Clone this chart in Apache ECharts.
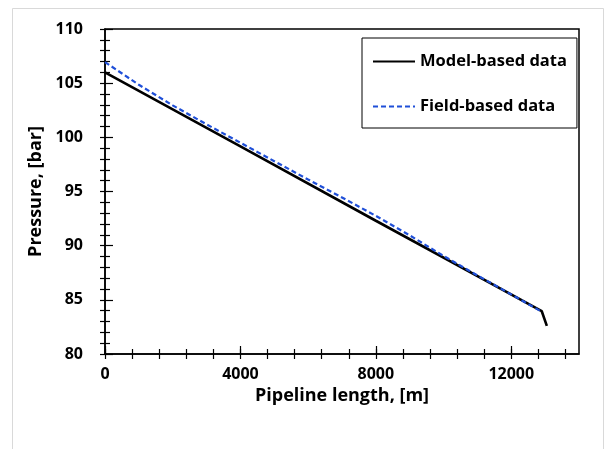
<!DOCTYPE html>
<html>
<head>
<meta charset="utf-8">
<script src="https://cdn.jsdelivr.net/npm/echarts@6/dist/echarts.min.js"></script>
<style>
  html, body { margin: 0; padding: 0; background: #fff; }
  #chart { width: 615px; height: 449px; }
</style>
</head>
<body>
<div id="chart"></div>
<script>
// pipeline length [m] and pressure [bar]
const MODEL_X = [0, 4000, 8000, 12900, 13050];
const MODEL_Y = [106.0, 99.16, 92.3, 83.95, 82.6];

const FIELD_X = [0, 1000, 2000, 3000, 4000, 5000, 6000, 7000, 8000, 9000, 10000, 11000, 12000, 12900];
const FIELD_Y = [106.95, 104.85, 102.95, 101.2, 99.5, 97.8, 96.1, 94.45, 92.75, 90.95, 89.05, 87.25, 85.5, 83.9];

const X_TICKS = [0, 800, 1600, 2400, 3200, 4000, 4800, 5600, 6400, 7200, 8000, 8800, 9600, 10400, 11200, 12000, 12800, 13600];
const X_MAJOR = [0, 4000, 8000, 12000];
const X_LABELS = ["0", "4000", "8000", "12000"];

const FONT = "'Open Sans', sans-serif";
const AXIS_LINE = { lineStyle: { color: "#000", width: 1.5 } };
const TICK_STYLE = { color: "#000", width: 1.2 };

const chart = echarts.init(document.getElementById("chart"), null, { renderer: "canvas" });

const pair = (xs, ys) => xs.map((x, i) => [x, ys[i]]);

chart.setOption({
  animation: false,
  backgroundColor: "#fff",
  textStyle: { fontFamily: FONT },
  graphic: [
    {
      type: "rect",
      shape: { x: 12.5, y: 8.5, width: 591, height: 470 },
      style: { fill: "none", stroke: "#d9d9d9", lineWidth: 1 },
      silent: true,
    },
  ],
  grid: {
    left: 105, right: 36, top: 29, bottom: 95,
    show: true, borderColor: "#000", borderWidth: 1.5, backgroundColor: "transparent",
  },
  legend: {
    left: 362, top: 38,
    orient: "vertical",
    itemWidth: 42, itemHeight: 18, itemGap: 28,
    padding: [15, 10, 13, 10],
    borderColor: "#000", borderWidth: 1,
    itemStyle: { opacity: 0 },
    textStyle: { color: "#000", fontSize: 16.5, fontWeight: "bold", fontFamily: FONT },
    data: ["Model-based data", "Field-based data"],
  },
  xAxis: [
    {
      type: "value", min: 0, max: 14000,
      name: "Pipeline length, [m]", nameLocation: "middle", nameGap: 23,
      nameTextStyle: { color: "#000", fontSize: 18, fontWeight: "bold", fontFamily: FONT },
      axisLine: AXIS_LINE,
      axisTick: { show: true, length: 5, customValues: X_TICKS, lineStyle: TICK_STYLE },
      axisLabel: {
        color: "#000", fontSize: 16, fontWeight: "bold", fontFamily: FONT, margin: 12,
        customValues: X_MAJOR,
        formatter: (v) => X_LABELS[X_MAJOR.indexOf(v)] ?? "",
      },
      splitLine: { show: false },
    },
    {
      type: "value", min: 0, max: 14000, position: "bottom",
      axisLine: { show: false },
      axisTick: { show: true, inside: true, length: 5, customValues: X_TICKS, lineStyle: TICK_STYLE },
      axisLabel: { show: false },
      splitLine: { show: false },
    },
    {
      type: "value", min: 0, max: 14000, position: "bottom",
      axisLine: { show: false },
      axisTick: { show: true, inside: true, length: 8, customValues: X_MAJOR, lineStyle: TICK_STYLE },
      axisLabel: { show: false },
      splitLine: { show: false },
    },
  ],
  yAxis: [
    {
      type: "value", min: 80, max: 110, interval: 5,
      name: "Pressure, [bar]", nameLocation: "middle", nameGap: 56,
      nameTextStyle: { color: "#000", fontSize: 18, fontWeight: "bold", fontFamily: FONT },
      axisLine: AXIS_LINE,
      axisTick: { show: true, length: 5, lineStyle: TICK_STYLE },
      minorTick: { show: true, splitNumber: 5, length: 5, lineStyle: TICK_STYLE },
      axisLabel: { color: "#000", fontSize: 16, fontWeight: "bold", fontFamily: FONT, margin: 22 },
      splitLine: { show: false },
    },
    {
      type: "value", min: 80, max: 110, interval: 5, position: "left",
      axisLine: { show: false },
      axisTick: { show: true, inside: true, length: 8, lineStyle: TICK_STYLE },
      minorTick: { show: true, splitNumber: 5, length: 5, lineStyle: TICK_STYLE },
      axisLabel: { show: false },
      splitLine: { show: false },
    },
  ],
  series: [
    {
      name: "Model-based data",
      type: "line",
      data: pair(MODEL_X, MODEL_Y),
      symbol: "none",
      lineStyle: { color: "#000", width: 2.6 },
      itemStyle: { color: "#000" },
    },
    {
      name: "Field-based data",
      type: "line",
      data: pair(FIELD_X, FIELD_Y),
      symbol: "none",
      lineStyle: { color: "#1f4fd8", width: 2.2, type: [5, 3] },
      itemStyle: { color: "#1f4fd8" },
    },
  ],
});
</script>
</body>
</html>
